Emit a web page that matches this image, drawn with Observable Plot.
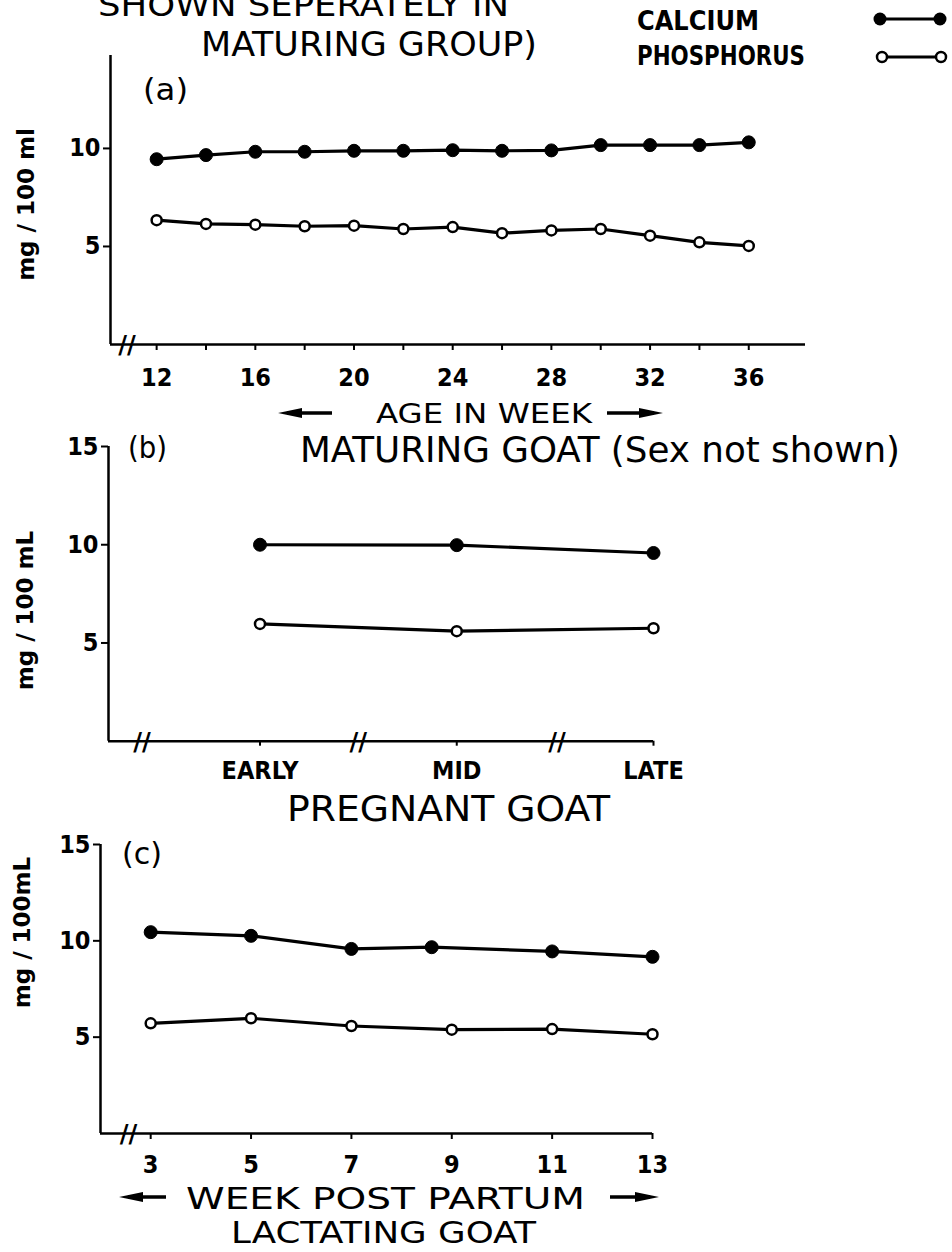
<!DOCTYPE html>
<html><head><meta charset="utf-8">
<script src="https://cdn.jsdelivr.net/npm/d3@7"></script>
<script src="https://cdn.jsdelivr.net/npm/@observablehq/plot@0.6"></script>
<style>
body{margin:0;background:#fff;}
#page{position:relative;width:952px;height:1252px;overflow:hidden;background:#fff;}
#page svg{position:absolute;left:0;}
</style></head><body><div id="page"></div>
<script>
// ---------- DATA ----------
// (a) Maturing goat: age in weeks
const weeksA = [12,14,16,18,20,22,24,26,28,30,32,34,36];
const calciumA = [9.45,9.66,9.83,9.83,9.88,9.88,9.91,9.88,9.9,10.17,10.17,10.17,10.31];
const phosphorusA = [6.34,6.15,6.11,6.03,6.06,5.89,5.99,5.68,5.82,5.89,5.55,5.21,5.03];
const tickWeeksA = [12,14,16,18,20,22,24,26,28,30,32,34,36];
const labelWeeksA = [12,16,20,24,28,32,36];
// (b) Pregnant goat: stage
const stagesB = ["EARLY","MID","LATE"];
const calciumB = [10.0, 9.98, 9.58];
const phosphorusB = [5.97, 5.6, 5.75];
// (c) Lactating goat: week post partum
const weeksCalciumC = [3,5,7,8.6,11,13];
const calciumC = [10.45,10.26,9.58,9.67,9.45,9.17];
const weeksPhosphorusC = [3,5,7,9,11,13];
const phosphorusC = [5.72,5.98,5.58,5.39,5.42,5.15];
const tickWeeksC = [3,5,7,9,11,13];
const yTicksA = [5,10];
const yTicksBC = [5,10,15];
// axis break positions (data units)
const breaksA = [10.8];
const breaksB = [0.40, 1.50, 2.51];
const breaksC = [2.56];

const page = document.getElementById("page");
const tickFont = "'Liberation Sans Narrow','DejaVu Sans Condensed',sans-serif";
const labelFont = "'DejaVu Sans',sans-serif";

function panel(o) {
  const ca = o.caX.map((x, i) => ({x, v: o.ca[i]}));
  const p = o.pX.map((x, i) => ({x, v: o.p[i]}));
  const svg = Plot.plot({
    width: 952, height: o.height,
    marginLeft: o.ml, marginRight: o.mr, marginTop: o.mt, marginBottom: o.mb,
    x: {domain: o.xDomain}, y: {domain: o.yDomain},
    style: {background: "transparent", overflow: "visible", color: "#000"},
    marks: [
      Plot.axisX({ticks: o.xTicks, tickFormat: o.xFormat, tickSize: o.tickSizeX, tickPadding: o.tickPadX,
        fontSize: o.xFont, fontFamily: tickFont, fontWeight: "bold", strokeWidth: 2, label: null}),
      Plot.axisY({ticks: o.yTicks, tickSize: 7, tickPadding: 3, fontSize: 25,
        fontFamily: tickFont, fontWeight: "bold", strokeWidth: 2, label: null}),
      Plot.ruleY([0], {stroke: "#000", strokeWidth: 2.5}),
      Plot.ruleX([o.xDomain[0]], {stroke: "#000", strokeWidth: 2.5}),
      Plot.text(o.breaks, {x: d => d, y: () => 0, text: () => "//", fontSize: 24, fontWeight: "bold",
        fontFamily: "'DejaVu Sans',sans-serif", fill: "#000", dy: 1}),
      Plot.line(ca, {x: "x", y: "v", stroke: "#000", strokeWidth: 3.2}),
      Plot.line(p, {x: "x", y: "v", stroke: "#000", strokeWidth: 3.2}),
      Plot.dot(ca, {x: "x", y: "v", r: 6.5, fill: "#000", stroke: "#000", strokeWidth: 1}),
      Plot.dot(p, {x: "x", y: "v", r: 5, fill: "#fff", stroke: "#000", strokeWidth: 2.5}),
      Plot.text([o.ylabel], {x: () => o.xDomain[0], y: () => o.ylabelY, text: d => d, rotate: -90,
        dx: o.ylabelDx, fontSize: 23, fontWeight: "bold", fontFamily: labelFont, fill: "#000"})
    ]
  });
  svg.style.top = o.top + "px";
  page.appendChild(svg);
}

panel({top: 40, height: 360, ml: 110, mr: 147, mt: 15, mb: 56,
  xDomain: [10.13, 38.3], yDomain: [0, 14.74],
  xTicks: tickWeeksA, xFormat: d => labelWeeksA.includes(d) ? String(d) : "",
  tickSizeX: 6, tickPadX: 18, xFont: 25, yTicks: yTicksA,
  caX: weeksA, ca: calciumA, pX: weeksA, p: phosphorusA, breaks: breaksA,
  ylabel: "mg / 100 ml", ylabelY: 7.14, ylabelDx: -84});

panel({top: 420, height: 380, ml: 108, mr: 299, mt: 26, mb: 59.3,
  xDomain: [0.23, 3.0], yDomain: [0, 15],
  xTicks: [1,2,3], xFormat: d => stagesB[d - 1],
  tickSizeX: 5, tickPadX: 15, xFont: 25, yTicks: yTicksBC,
  caX: stagesB.map((s, i) => i + 1), ca: calciumB, pX: stagesB.map((s, i) => i + 1), p: phosphorusB,
  breaks: breaksB, ylabel: "mg / 100 mL", ylabelY: 6.65, ylabelDx: -83});

panel({top: 820, height: 370, ml: 100, mr: 300, mt: 24, mb: 57,
  xDomain: [2.0, 13.0], yDomain: [0, 15],
  xTicks: tickWeeksC, xFormat: d => String(d),
  tickSizeX: 6, tickPadX: 16, xFont: 25, yTicks: yTicksBC,
  caX: weeksCalciumC, ca: calciumC, pX: weeksPhosphorusC, p: phosphorusC,
  breaks: breaksC, ylabel: "mg / 100mL", ylabelY: 10.43, ylabelDx: -78});

// ---------- annotations overlay ----------
const ov = d3.create("svg").attr("width", 952).attr("height", 1252)
  .style("position", "absolute").style("top", "0px").style("left", "0px").style("pointer-events", "none");
const condensed = "'DejaVu Sans Condensed','DejaVu Sans',sans-serif";
const notes = [
  {t: "SHOWN SEPERATELY IN", x: 98, y: 16, s: 32, w: 411, b: "normal"},
  {t: "MATURING GROUP)", x: 201, y: 56, s: 34, w: 336, b: "normal"},
  {t: "CALCIUM", x: 637, y: 30, s: 26, w: 122, b: "bold"},
  {t: "PHOSPHORUS", x: 637, y: 65, s: 26, w: 168, b: "bold"},
  {t: "(a)", x: 143, y: 100, s: 30, w: 45, b: "normal"},
  {t: "AGE IN WEEK", x: 376, y: 423, s: 27, w: 216, b: "normal"},
  {t: "(b)", x: 128, y: 458, s: 30, w: 39, b: "normal"},
  {t: "MATURING GOAT (Sex not shown)", x: 300, y: 462, s: 36, w: 600, b: "normal"},
  {t: "PREGNANT GOAT", x: 287, y: 821, s: 36, w: 323, b: "normal"},
  {t: "(c)", x: 122, y: 864, s: 30, w: 40, b: "normal"},
  {t: "WEEK POST PARTUM", x: 186, y: 1209, s: 31, w: 399, b: "normal"},
  {t: "LACTATING GOAT", x: 231, y: 1243, s: 31, w: 305, b: "normal"}
];
ov.selectAll("text.note").data(notes).join("text")
  .attr("x", d => d.x).attr("y", d => d.y).attr("font-size", d => d.s)
  .attr("font-family", condensed).attr("font-weight", d => d.b)
  .attr("textLength", d => d.w).attr("lengthAdjust", "spacingAndGlyphs")
  .attr("fill", "#000").text(d => d.t);

// arrows
function arrow(x1, x2, y, dir) {
  const tip = dir < 0 ? x1 : x2, tail = dir < 0 ? x2 : x1, head = 24 * (dir < 0 ? 1 : -1);
  const pts = [[tip, y], [tip + head, y - 5], [tip + head, y - 1.8], [tail, y - 1.8], [tail, y + 1.8], [tip + head, y + 1.8], [tip + head, y + 5]];
  ov.append("polygon").attr("points", pts.map(p => p.join(",")).join(" ")).attr("fill", "#000");
}
arrow(278, 332, 413, -1); arrow(607, 663, 413, 1);
arrow(119, 166, 1197, -1); arrow(610, 659, 1197, 1);

// legend symbols
ov.append("line").attr("x1", 878).attr("x2", 942).attr("y1", 19).attr("y2", 19).attr("stroke", "#000").attr("stroke-width", 3);
ov.append("circle").attr("cx", 880).attr("cy", 19).attr("r", 6.5).attr("fill", "#000");
ov.append("circle").attr("cx", 940).attr("cy", 19).attr("r", 6.5).attr("fill", "#000");
ov.append("line").attr("x1", 880).attr("x2", 943).attr("y1", 57).attr("y2", 57).attr("stroke", "#000").attr("stroke-width", 3);
ov.append("circle").attr("cx", 882).attr("cy", 57).attr("r", 5).attr("fill", "#fff").attr("stroke", "#000").attr("stroke-width", 2.5);
ov.append("circle").attr("cx", 941).attr("cy", 57).attr("r", 5).attr("fill", "#fff").attr("stroke", "#000").attr("stroke-width", 2.5);

page.appendChild(ov.node());
</script></body></html>
